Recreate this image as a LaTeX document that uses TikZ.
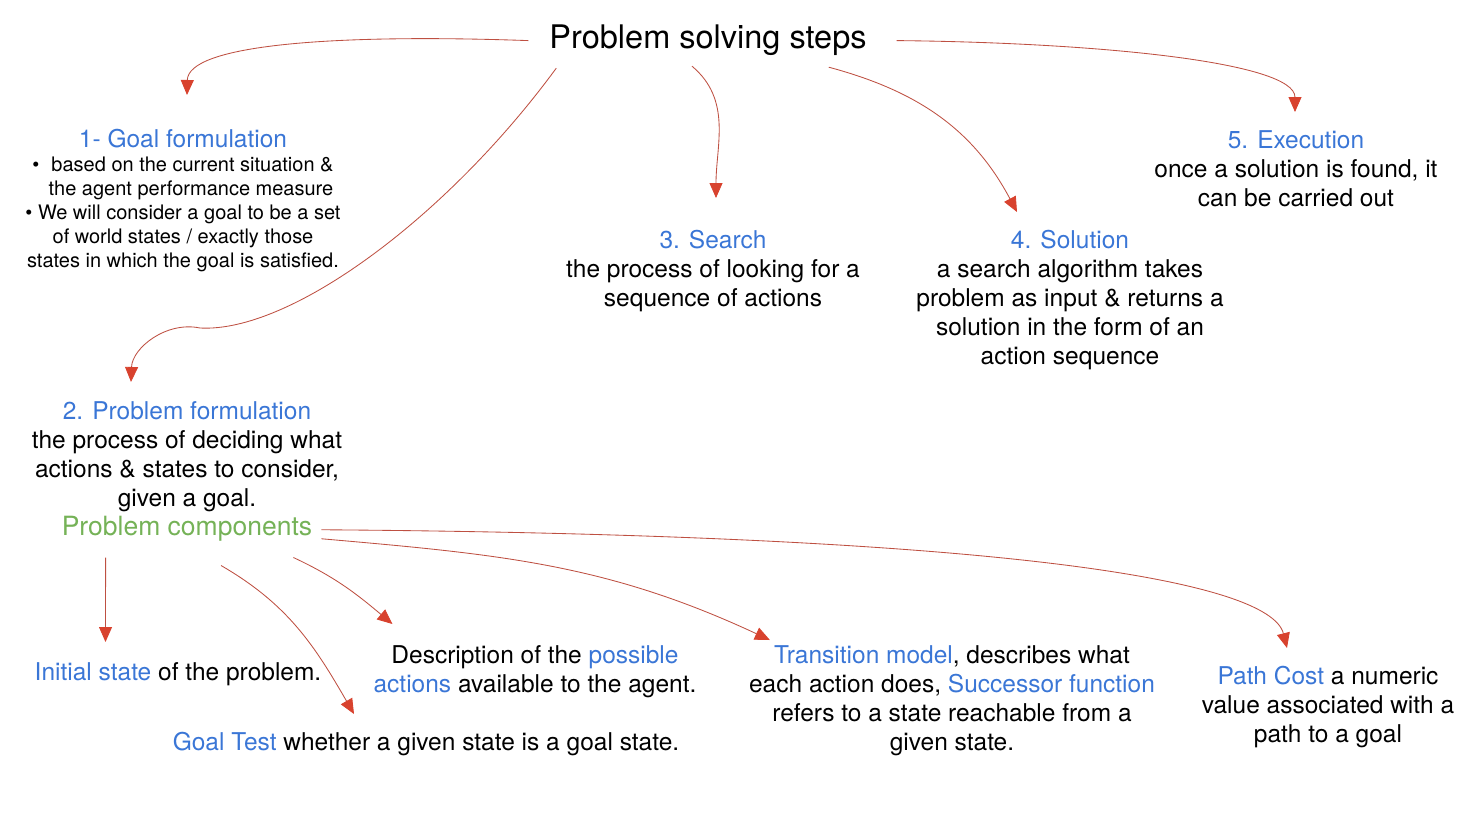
\documentclass[tikz,border=0pt]{standalone}
\usepackage{fontspec}
\setmainfont{TeX Gyre Heros}
\usetikzlibrary{arrows.meta}

\definecolor{stepblue}{RGB}{58,118,214}
\definecolor{stepgreen}{RGB}{117,178,87}
\definecolor{linkred}{RGB}{190,80,66}
\definecolor{tipred}{RGB}{216,66,46}

\tikzset{
  stepbox/.style={anchor=north, inner sep=0pt, align=center,
    font=\fontsize{24.5}{29}\selectfont},
  link/.style={draw=linkred, line width=0.85pt,
    -{Triangle[length=15pt,width=13pt,color=tipred]}}
}

\begin{document}
\begin{tikzpicture}[x=1pt,y=1pt]
\useasboundingbox (0,0) rectangle (1476,-815);

% title
\node[stepbox, font=\fontsize{32.5}{36}\selectfont] (title) at (708,-25) {Problem solving steps};

% steps
\node[stepbox, font=\fontsize{20}{24}\selectfont] (goal) at (183,-129)
  {{\fontsize{24.5}{29}\selectfont\textcolor{stepblue}{1- Goal formulation}}\\
   \textbullet\hspace{0.6em}based on the current situation \&\\
   \hspace*{16pt}the agent performance measure\\
   \textbullet\ We will consider a goal to be a set\\
   of world states / exactly those\\
   states in which the goal is satisfied.};
\node[stepbox] (formulation) at (187,-401)
  {\textcolor{stepblue}{2. Problem formulation}\\
   the process of deciding what\\
   actions \& states to consider,\\
   given a goal.};
\node[stepbox, font=\fontsize{26.5}{29}\selectfont, text=stepgreen] (comps) at (187,-516)
  {Problem components};
\node[stepbox] (search) at (713,-230)
  {\textcolor{stepblue}{3. Search}\\
   the process of looking for a\\
   sequence of actions};
\node[stepbox] (solution) at (1070,-230)
  {\textcolor{stepblue}{4. Solution}\\
   a search algorithm takes\\
   problem as input \& returns a\\
   solution in the form of an\\
   action sequence};
\node[stepbox] (execution) at (1296,-130)
  {\textcolor{stepblue}{5. Execution}\\
   once a solution is found, it\\
   can be carried out};

% problem components
\node[stepbox] (initial) at (178,-662)
  {\textcolor{stepblue}{Initial state} of the problem.};
\node[stepbox] (actions) at (535,-645)
  {Description of the \textcolor{stepblue}{possible}\\
   \textcolor{stepblue}{actions} available to the agent.};
\node[stepbox] (goaltest) at (426,-732)
  {\textcolor{stepblue}{Goal Test} whether a given state is a goal state.};
\node[stepbox] (transition) at (952,-645)
  {\textcolor{stepblue}{Transition model}, describes what\\
   each action does, \textcolor{stepblue}{Successor function}\\
   refers to a state reachable from a\\
   given state.};
\node[stepbox] (pathcost) at (1328,-666)
  {\textcolor{stepblue}{Path Cost} a numeric\\
   value associated with a\\
   path to a goal};

% arrows from the title
\draw[link] ([xshift=-21pt]title.west)
  .. controls +(-197,7) and +(1,50) .. ([xshift=4pt,yshift=34pt]goal.north);
\draw[link] ([xshift=7pt,yshift=-12pt]title.south west)
  .. controls +(-110,-150) and +(90,-5) .. (200,-328)
  to[out=168,in=88] ([xshift=-56pt,yshift=19pt]formulation.north);
\draw[link] ([xshift=-16pt,yshift=-10pt]title.south)
  to[out=-40,in=90] ([xshift=3pt,yshift=32pt]search.north);
\draw[link] ([xshift=-38pt,yshift=-11pt]title.south east)
  to[out=-15,in=118] ([xshift=-53pt,yshift=18pt]solution.north);
\draw[link] ([xshift=30pt]title.east)
  .. controls +(200,-2) and +(0,50) .. ([xshift=-1pt,yshift=18pt]execution.north);

% arrows from the problem components
\draw[link] ([xshift=44pt,yshift=-16pt]comps.south west)
  -- ([xshift=71pt,yshift=20pt]initial.north west);
\draw[link] ([xshift=34pt,yshift=-24pt]comps.south)
  to[out=-30,in=120] ([xshift=-72pt,yshift=18pt]goaltest.north);
\draw[link] ([xshift=-19pt,yshift=-16pt]comps.south east)
  to[out=-25,in=140] ([xshift=19pt,yshift=21pt]actions.north west);
\draw[link] ([xshift=9pt,yshift=-10pt]comps.east)
  to[out=-5,in=155] ([xshift=21pt,yshift=5pt]transition.north west);
\draw[link] ([xshift=9pt,yshift=-1pt]comps.east)
  .. controls +(680,-5) and +(-17,68) .. ([xshift=-41pt,yshift=18pt]pathcost.north);

\end{tikzpicture}
\end{document}
